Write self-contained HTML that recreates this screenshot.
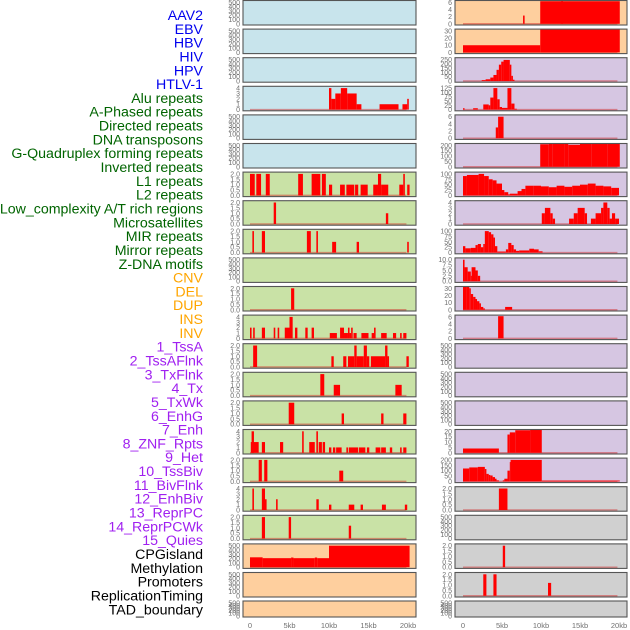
<!DOCTYPE html>
<html><head><meta charset="utf-8"><style>
body{margin:0;background:#fff;}
svg{display:block;font-family:"Liberation Sans",sans-serif;}
</style></head><body>
<svg id="chart" width="630" height="630" viewBox="0 0 630 630" xmlns="http://www.w3.org/2000/svg">
<g id="labels"></g>
<g id="panels"></g>
<g id="xaxes"></g>
</svg>
<script>
const NS="http://www.w3.org/2000/svg";
const labelNames=["AAV2","EBV","HBV","HIV","HPV","HTLV-1","Alu repeats","A-Phased repeats","Directed repeats","DNA transposons","G-Quadruplex forming repeats","Inverted repeats","L1 repeats","L2 repeats","Low_complexity A/T rich regions","Microsatellites","MIR repeats","Mirror repeats","Z-DNA motifs","CNV","DEL","DUP","INS","INV","1_TssA","2_TssAFlnk","3_TxFlnk","4_Tx","5_TxWk","6_EnhG","7_Enh","8_ZNF_Rpts","9_Het","10_TssBiv","11_BivFlnk","12_EnhBiv","13_ReprPC","14_ReprPCWk","15_Quies","CPGisland","Methylation","Promoters","ReplicationTiming","TAD_boundary"];
const labelColors=["#0000ee","#006400","#ffa500","#a020f0","#000000"];
const labelGroup=[0,0,0,0,0,0,1,1,1,1,1,1,1,1,1,1,1,1,1,2,2,2,2,2,3,3,3,3,3,3,3,3,3,3,3,3,3,3,3,4,4,4,4,4];
const xTicks=[0,5,10,15,20];
const xTickLabels=["0","5kb","10kb","15kb","20kb"];
const T500=[0,100,200,300,400,500];
const T2=[0,0.5,1,1.5,2];
const T4=[0,1,2,3,4];
const T6=[0,2,4,6];
const L3=[[10,10.3,4],[10.3,10.8,2],[10.8,11.5,3],[11.5,12.3,4],[12.3,13.5,3],[13.5,14.1,1],[16.4,18.8,1],[19.3,19.9,1],[19.9,20.1,2]];
const L6=[[0,0.6,2],[0.8,1.4,2],[2,2.5,2],[6.1,6.7,2],[7.8,8.9,2],[9.1,9.6,2],[10,10.4,1],[11.4,12,1],[12.2,13.2,1],[13.3,13.7,1],[14,14.9,1],[15.6,16.2,1],[16.2,16.6,2],[16.6,17.5,1],[18.9,19.4,1],[19.4,19.6,2],[19.9,20.2,1]];
const L7=[[3,3.3,2],[17.2,17.5,1]];
const L8=[[0.3,0.5,2],[1.5,1.9,2],[7.2,7.7,2],[8.4,8.6,2],[10.4,10.9,1],[13.5,13.8,1],[19.9,20.1,1]];
const L10=[[5.2,5.6,2]];
const L11=[[0,0.2,2],[0.4,0.6,2],[1.5,1.9,2],[3,3.2,2],[3.5,3.7,2],[4.4,5,2],[5,5.4,4],[5.7,6,2],[7,7.3,2],[7.8,8.1,2],[10.1,11,1],[11.4,11.9,2],[11.9,12.4,1],[12.4,12.6,2],[12.6,12.8,1],[12.8,13,2],[13.1,13.5,1],[14.1,15,1],[15.4,15.7,1],[15.7,15.9,2],[16.6,17.3,1],[18.1,18.5,1],[19,19.2,1],[19.4,19.8,1]];
const L12=[[0.4,0.9,2],[10.3,10.6,1],[11.8,12.2,1],[12.4,13.2,1],[13.2,13.5,2],[13.5,14.4,1],[14.4,14.8,2],[14.8,15.1,1],[15.3,17.1,1],[17.1,17.4,2],[17.4,17.6,1],[19.8,20.1,1]];
const L13=[[8.9,9.4,2],[10.6,11.4,1],[18.4,19.2,1]];
const L14=[[4.9,5.6,2],[11.6,11.9,1],[16.6,16.9,1],[19.4,19.8,1]];
const L15=[[0.1,1.1,2],[0.2,0.5,4],[1.5,1.9,2],[3.8,4.2,2],[6.6,6.8,4],[7.5,8.2,2],[8.4,8.6,4],[8.7,9.1,2],[9.2,9.5,2],[10,10.3,1],[10.5,10.8,1],[10.9,11.6,1],[12.2,12.4,1],[12.5,13.7,1],[13.8,14.6,1],[14.8,15.1,1],[15.9,16.5,1],[16.6,17.2,1],[17.7,18,1],[19,19.2,1],[19.4,19.8,1]];
const L16=[[1.1,1.5,2],[1.8,2.2,2],[11.3,11.8,1]];
const L17=[[0.3,0.5,4],[1.5,1.9,4],[1.9,2.1,2],[3.3,3.5,2],[8.4,8.7,2],[10,10.3,1],[12.5,13.2,1],[14,14.3,1],[16.7,17.2,1],[19.6,19.9,1]];
const L18=[[1.5,1.9,2],[4.9,5.2,2],[12.5,12.8,1.2]];
const L19=[[0,1.6,230],[1.6,5.2,210],[5.2,5.5,225],[5.5,8.2,210],[8.2,8.5,225],[8.5,10,210],[10,20.2,500]];
const R0=[[0,7.7,0],[7.7,7.9,2.3],[9.9,20.1,6.3],[12.6,12.8,7.5]];
const R1=[[0,9.9,10],[9.9,20.1,35]];
const R2=[[2.4,2.9,10],[2.9,3.5,20],[3.5,3.9,40],[3.9,4.3,70],[4.3,4.6,130],[4.6,4.9,190],[4.9,5.2,225],[5.2,6,245],[6,6.2,190],[6.2,6.4,60],[6.4,6.6,15]];
const R3=[[0,0.2,8],[1.3,1.9,8],[2.6,3.3,30],[3.3,3.5,25],[3.5,3.9,70],[3.9,4.4,125],[4.4,4.7,60],[4.7,5,15],[5,5.7,10],[5.7,6.2,125],[6.2,6.6,35],[6.6,6.9,5]];
const R4=[[4.2,4.5,3],[4.5,5.2,6]];
const R5=[[9.9,11,210],[11,11.5,220],[11.5,13,212],[13,13.5,222],[13.5,15,205],[15,16.5,215],[16.5,17.5,212],[17.5,18.5,225],[18.5,20.1,218]];
const R6=[[0,0.5,90],[0.5,2,95],[2,2.7,100],[2.7,3.3,90],[3.3,3.8,75],[3.8,4.3,70],[4.3,5,55],[5,5.3,25],[5.3,5.8,15],[5.8,6,5],[6,7,8],[7,7.5,20],[7.5,8,30],[8,9,45],[9,10,45],[10,11,42],[11,12,38],[12,13,45],[13,14,40],[14,15,45],[15,16,50],[16,17,55],[17,18,45],[18,19,42],[19,20,35]];
const R7=[[10.1,10.5,2],[10.5,11.2,3],[11.2,11.5,2],[11.5,11.8,1],[13.6,14.2,1],[14.2,14.7,2],[14.7,15.6,3],[15.6,15.9,2],[16.4,17,1],[17,17.7,2],[17.7,18,3],[18,18.5,4],[18.5,18.8,3],[18.8,19.1,1],[19.1,19.5,2],[19.5,20,1]];
const R8=[[0,0.3,30],[0.3,1,20],[1,1.6,22],[1.6,1.9,35],[1.9,2.3,40],[2.3,2.6,25],[2.6,2.8,40],[2.8,3.3,100],[3.3,3.6,95],[3.6,3.9,85],[3.9,4.1,70],[4.1,4.4,30],[4.4,5.5,5],[5.5,5.8,15],[5.8,6.2,45],[6.2,6.5,35],[6.5,6.8,15],[6.8,7.2,8],[7.2,8.5,10],[8.5,9.1,18],[9.1,9.7,15],[9.7,10.2,6]];
const R9=[[0,0.2,10],[0.2,0.6,6.5],[0.6,1,4.5],[1,1.1,2.5],[1.1,1.6,6.5],[1.6,1.9,5],[1.9,2.2,2.5]];
const R10=[[0,0.4,38],[0.4,0.8,36],[0.8,1.0,30],[1,1.3,22],[1.3,1.6,18],[1.6,1.8,15],[1.8,2.1,12],[2.1,2.3,9],[2.3,2.6,4],[2.6,2.8,2],[5.4,6.3,4]];
const R11=[[4.5,5.2,6.2]];
const R15=[[0,4.6,4],[5.7,6,17],[6,6.7,19],[6.7,8.6,21],[8.6,10.1,23]];
const R16=[[0,0.8,120],[0.8,1.9,130],[1.9,2.8,135],[2.8,3,115],[3,3.3,70],[3.3,3.5,60],[3.5,3.8,55],[3.8,4.1,40],[4.1,4.3,25],[4.3,4.6,10],[5.1,5.3,10],[5.3,5.7,25],[5.7,6,100],[6,6.1,180],[6.1,10.1,200],[10.1,20.1,8]];
const R17=[[4.6,5.7,2]];
const R19=[[5.1,5.4,2]];
const R20=[[2.6,3,2],[3.9,4.3,2],[10.9,11.3,1.2]];

const BLUE="#c8e4ec",GREEN="#c9e2a6",ORANGE="#fecf9e",PURPLE="#d6c6e2",GRAY="#d0d0d0";
const leftPanels=[
 [BLUE,T500,[],false],[BLUE,T500,[],false],[BLUE,T500,[],false],[BLUE,T4,L3,true],[BLUE,T500,[],false],[BLUE,T500,[],false],
 [GREEN,T2,L6,true],[GREEN,T2,L7,true],[GREEN,T2,L8,true],[GREEN,T500,[],false],[GREEN,T2,L10,true],[GREEN,T4,L11,true],
 [GREEN,T2,L12,true],[GREEN,T2,L13,true],[GREEN,T2,L14,true],[GREEN,T4,L15,true],[GREEN,T2,L16,true],[GREEN,T4,L17,true],[GREEN,T2,L18,true],
 [ORANGE,T500,L19,false],[ORANGE,T500,[],false],[ORANGE,T500,[],false]];
const rightPanels=[
 [ORANGE,T6,R0,true],[ORANGE,[0,10,20,30],R1,false],[PURPLE,[0,50,100,150,200,250],R2,true],[PURPLE,[0,25,50,75,100,125],R3,true],[PURPLE,T6,R4,true],[PURPLE,[0,50,100,150,200],R5,true],
 [PURPLE,[0,25,50,75,100],R6,false],[PURPLE,T4,R7,true],[PURPLE,[0,25,50,75,100],R8,true],[PURPLE,[0,2.5,5,7.5,10],R9,true],[PURPLE,[0,10,20,30],R10,true],[PURPLE,T6,R11,true],
 [PURPLE,T500,[],false],[PURPLE,T500,[],false],[PURPLE,T500,[],false],[PURPLE,[0,5,10,15,20],R15,true],[PURPLE,[0,50,100,150,200],R16,false],
 [GRAY,T2,R17,true],[GRAY,T500,[],false],[GRAY,T2,R19,true],[GRAY,T2,R20,true],[GRAY,T500,[],false]];

function mk(tag,attrs,parent){const e=document.createElementNS(NS,tag);for(const k in attrs)e.setAttribute(k,attrs[k]);parent.appendChild(e);return e;}
const gL=document.getElementById('labels'),gP=document.getElementById('panels'),gX=document.getElementById('xaxes');
labelNames.forEach((n,i)=>{
 const t=mk('text',{x:203,y:20+i*13.82,'text-anchor':'end','font-size':'14.2',fill:labelColors[labelGroup[i]]},gL);
 
 
 t.textContent=n;
});
function rowTop(i){return i===21?601:0.5+i*28.6;}
function rowH(i){return i===21?16:24.5;}
function drawPanel(p,i,x0,w,k0,k1,col){
 const [bg,ticks,segs,base]=p;
 const top=rowTop(i),h=rowH(i),bottom=top+h;
 const g=mk('g',{},gP);
 
 
 mk('rect',{x:x0,y:top,width:w,height:h,fill:bg},g);
 const ymax=ticks[ticks.length-1];
 const yS=v=>(bottom-1.2)-(v/ymax)*(h-3);
 const xS=kb=>k0+kb*(k1-k0)/20;
 const cid='clip-'+col+i;
 const cp=mk('clipPath',{id:cid},g);mk('rect',{x:x0,y:top,width:w,height:h},cp);
 const dg=mk('g',{'clip-path':'url(#'+cid+')'},g);
 if(base||segs.length){
  const bl=mk('line',{x1:xS(0),x2:xS(19.8),y1:yS(0),y2:yS(0),stroke:'#d02020','stroke-opacity':0.45,'stroke-width':1.5},dg);
  
  
 }
 segs.forEach(s=>{
  if(s[2]<=0)return;
  const y=yS(s[2]);
  const r=mk('rect',{x:xS(s[0]),y:y,width:Math.max(0.8,xS(s[1])-xS(s[0])),height:yS(0)-y,fill:'#ff0000'},dg);
  
  
 });
 mk('rect',{x:x0,y:top,width:w,height:h,fill:'none',stroke:'#555','stroke-width':1.1},g);
 ticks.forEach(tv=>{
  const t=mk('text',{x:x0-3,y:yS(tv)+2.5,'text-anchor':'end','font-size':'7',fill:'#707070'},g);
  
  
  t.textContent=(ticks===T2||ticks[1]===2.5)?tv.toFixed(1):String(tv);
 });
}
leftPanels.forEach((p,i)=>drawPanel(p,i,243,173,250,408,'left'));
rightPanels.forEach((p,i)=>drawPanel(p,i,455,172,463,619,'right'));
[[250,408],[463,619]].forEach(([a,b])=>{
 xTicks.forEach((v,j)=>{
  const t=mk('text',{x:a+v*(b-a)/20,y:628,'text-anchor':'middle','font-size':'7.5',fill:'#707070'},gX);
  
  
  t.textContent=xTickLabels[j];
 });
});
</script>
</body></html>
